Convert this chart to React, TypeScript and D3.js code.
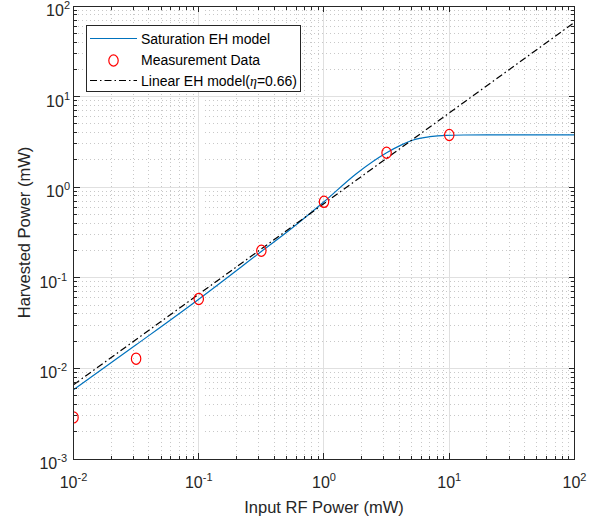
import React from "react";
import * as d3 from "d3";

// ---- data ----
const measX = [0.01, 0.0316, 0.1, 0.316, 1, 3.16, 10];
const measY = [0.00288, 0.0128, 0.0584, 0.199, 0.69, 2.4, 3.77];

const satX = [0.01, 0.0316, 0.1, 0.316, 0.55, 1, 1.8, 3.16, 4.2, 5.16, 7, 9.5, 13, 20, 100];
const satY = [0.0058, 0.0182, 0.058, 0.195, 0.35, 0.69, 1.4, 2.4, 2.95, 3.32, 3.61, 3.74, 3.77, 3.78, 3.78];

const linX = [0.01, 100];
const linY = [0.0066, 66];

const xTickExp = [-2, -1, 0, 1, 2];
const yTickExp = [-3, -2, -1, 0, 1, 2];

const legendLabels = ["Saturation EH model", "Measurement Data", "Linear EH model("];

const W = 597;
const H = 524;
const L = 73.5;
const R = 574.5;
const T = 6;
const B = 459;
const FONT = "'Liberation Sans', Arial, Helvetica, sans-serif";
const AX = "#262626";

export default function App() {
  const x = d3.scaleLog().domain([0.01, 100]).range([L, R]);
  const y = d3.scaleLog().domain([0.001, 100]).range([B, T]);

  const xMinor: number[] = [];
  for (let e = -2; e < 2; e++) for (let k = 2; k <= 9; k++) xMinor.push(k * Math.pow(10, e));
  const yMinor: number[] = [];
  for (let e = -3; e < 2; e++) for (let k = 2; k <= 9; k++) yMinor.push(k * Math.pow(10, e));

  const satPts: [number, number][] = satX.map((v, i) => [x(v), y(satY[i])]);
  const linPts: [number, number][] = linX.map((v, i) => [x(v), y(linY[i])]);
  const lineGen = d3.line().curve(d3.curveMonotoneX);
  const straight = d3.line();

  const rnd = (v: number) => Math.round(v - 0.5) + 0.5;

  return (
    <svg width={W} height={H} style={{ position: "absolute", left: 0, top: 0, background: "#fff" }} fontFamily={FONT}>
      <defs>
        <clipPath id="plotclip">
          <rect x={L} y={T} width={R - L} height={B - T} />
        </clipPath>
      </defs>
      <rect x={0} y={0} width={W} height={H} fill="#fff" />
      {/* minor grid */}
      <g stroke="#c8c8c8" strokeWidth={1} strokeDasharray="1 3" shapeRendering="crispEdges">
        {xMinor.map((v, i) => (
          <line key={"xm" + i} x1={rnd(x(v))} x2={rnd(x(v))} y1={T} y2={B} />
        ))}
        {yMinor.map((v, i) => (
          <line key={"ym" + i} x1={L} x2={R} y1={rnd(y(v))} y2={rnd(y(v))} />
        ))}
      </g>
      {/* major grid */}
      <g stroke="#e0e0e0" strokeWidth={1.2} shapeRendering="crispEdges">
        {xTickExp.slice(1, -1).map((e) => (
          <line key={"xg" + e} x1={rnd(x(Math.pow(10, e)))} x2={rnd(x(Math.pow(10, e)))} y1={T} y2={B} />
        ))}
        {yTickExp.slice(1, -1).map((e) => (
          <line key={"yg" + e} x1={L} x2={R} y1={rnd(y(Math.pow(10, e)))} y2={rnd(y(Math.pow(10, e)))} />
        ))}
      </g>

      {/* data */}
      <g clipPath="url(#plotclip)">
        <path d={lineGen(satPts) || ""} fill="none" stroke="#0072BD" strokeWidth={1.2} />
        <path d={straight(linPts) || ""} fill="none" stroke="#000" strokeWidth={1.2} strokeDasharray="7 3 1.5 3" />
        {measX.map((v, i) => (
          <ellipse key={"m" + i} cx={x(v)} cy={y(measY[i])} rx={4.7} ry={5.6} fill="none" stroke="#ff0000" strokeWidth={1.2} />
        ))}
      </g>

      {/* ticks */}
      <g stroke={AX} strokeWidth={1} shapeRendering="crispEdges">
        {xTickExp.map((e) => {
          const px = rnd(x(Math.pow(10, e)));
          return (
            <g key={"xt" + e}>
              <line x1={px} x2={px} y1={B} y2={B - 6} />
              <line x1={px} x2={px} y1={T} y2={T + 6} />
            </g>
          );
        })}
        {xMinor.map((v, i) => {
          const px = rnd(x(v));
          return (
            <g key={"xmt" + i}>
              <line x1={px} x2={px} y1={B} y2={B - 3.5} />
              <line x1={px} x2={px} y1={T} y2={T + 3.5} />
            </g>
          );
        })}
        {yTickExp.map((e) => {
          const py = rnd(y(Math.pow(10, e)));
          return (
            <g key={"yt" + e}>
              <line x1={L} x2={L + 6} y1={py} y2={py} />
              <line x1={R} x2={R - 6} y1={py} y2={py} />
            </g>
          );
        })}
        {yMinor.map((v, i) => {
          const py = rnd(y(v));
          return (
            <g key={"ymt" + i}>
              <line x1={L} x2={L + 3.5} y1={py} y2={py} />
              <line x1={R} x2={R - 3.5} y1={py} y2={py} />
            </g>
          );
        })}
        <rect x={L} y={T} width={R - L} height={B - T} fill="none" />
      </g>

      {/* tick labels */}
      <g fill={AX} fontSize={16}>
        {xTickExp.map((e) => (
          <text key={"xl" + e} x={x(Math.pow(10, e))} y={488} textAnchor="middle">
            <tspan>10</tspan>
            <tspan dy={-7} fontSize={11}>{String(e)}</tspan>
          </text>
        ))}
        {yTickExp.map((e) => (
          <text key={"yl" + e} x={e < 0 ? 67 : 70} y={y(Math.pow(10, e)) + 10} textAnchor="end">
            <tspan>10</tspan>
            <tspan dy={-7} fontSize={11}>{String(e)}</tspan>
          </text>
        ))}
      </g>

      {/* axis labels */}
      <text x={(L + R) / 2} y={513} textAnchor="middle" fontSize={16.5} fill={AX}>
        Input RF Power (mW)
      </text>
      <text transform={`translate(30,${(T + B) / 2}) rotate(-90)`} textAnchor="middle" fontSize={16.5} fill={AX}>
        Harvested Power (mW)
      </text>

      {/* legend */}
      <g>
        <rect x={86.5} y={25.5} width={214} height={66} fill="#fff" stroke={AX} strokeWidth={1} />
        <line x1={90} x2={137} y1={38.5} y2={38.5} stroke="#0072BD" strokeWidth={1.2} />
        <ellipse cx={113.5} cy={60.5} rx={4.7} ry={5.6} fill="none" stroke="#ff0000" strokeWidth={1.2} />
        <line x1={90} x2={137} y1={80.5} y2={80.5} stroke="#000" strokeWidth={1.2} strokeDasharray="7 3 1.5 3" />
        <g fontSize={14} fill="#000">
          <text x={141} y={43.5}>{legendLabels[0]}</text>
          <text x={141} y={65}>{legendLabels[1]}</text>
          <text x={141} y={86}>
            {legendLabels[2]}
            <tspan fontStyle="italic" fontFamily="'Liberation Serif', 'Times New Roman', serif">η</tspan>
            =0.66)
          </text>
        </g>
      </g>
    </svg>
  );
}
